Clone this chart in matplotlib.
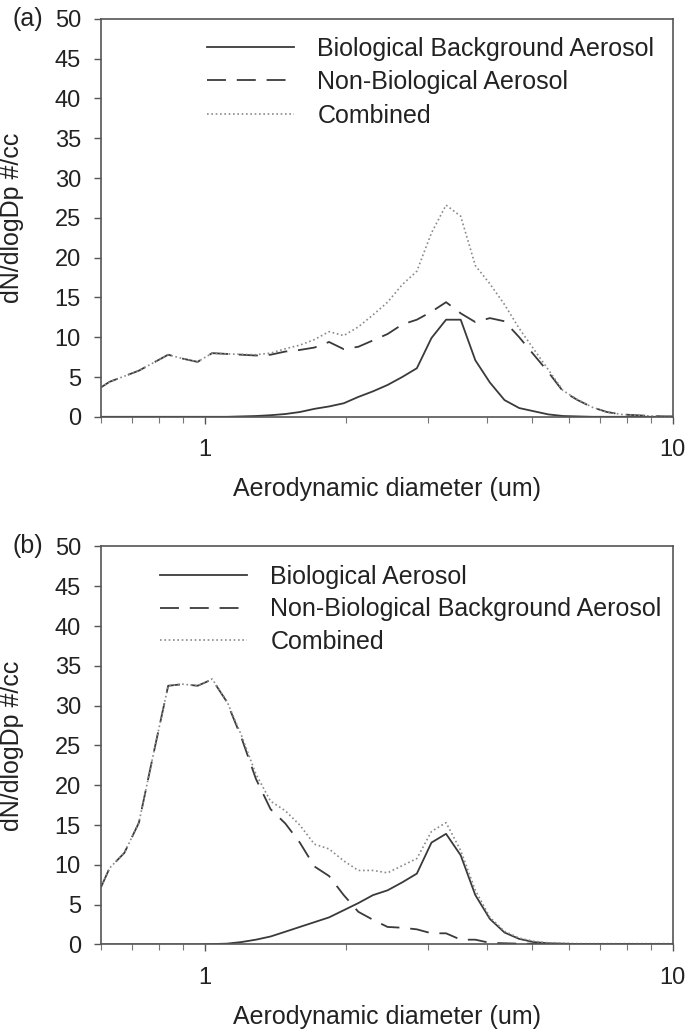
import numpy as np
import matplotlib.pyplot as plt
from matplotlib.ticker import LogLocator, NullFormatter, FixedLocator, FixedFormatter

plt.rcParams['font.family'] = ['Liberation Sans', 'DejaVu Sans']

# aerodynamic diameter grid (um)
diam = [0.6, 0.626, 0.673, 0.723, 0.777, 0.835, 0.898, 0.965, 1.037, 1.114,
        1.197, 1.286, 1.382, 1.486, 1.596, 1.715, 1.843, 1.981, 2.129, 2.288,
        2.458, 2.642, 2.839, 3.051, 3.278, 3.523, 3.786, 4.068, 4.371, 4.698,
        5.048, 5.425, 5.829, 6.264, 6.732, 7.234, 7.774, 8.354, 8.977, 9.647, 10.0]

# panel (a)
bio_a = [0, 0, 0, 0, 0, 0, 0, 0, 0, 0,
         0.05, 0.1, 0.2, 0.35, 0.6, 1.0, 1.3, 1.7, 2.5, 3.2,
         4.0, 5.0, 6.1, 9.9, 12.2, 12.2, 7.1, 4.3, 2.1, 1.1,
         0.7, 0.3, 0.1, 0.05, 0, 0, 0, 0, 0, 0, 0]
nonbio_a = [3.7, 4.4, 5.1, 5.8, 6.8, 7.8, 7.3, 6.9, 8.0, 7.9,
            7.8, 7.7, 7.8, 8.2, 8.4, 8.7, 9.4, 8.5, 8.8, 9.6,
            10.4, 11.6, 12.2, 13.2, 14.4, 13.0, 11.9, 12.4, 12.0, 10.0,
            7.8, 5.6, 3.2, 2.1, 1.2, 0.6, 0.3, 0.2, 0.1, 0.05, 0.05]
comb_a = [3.7, 4.4, 5.1, 5.8, 6.8, 7.8, 7.3, 6.9, 8.0, 7.9,
          7.85, 7.8, 8.0, 8.55, 9.0, 9.7, 10.7, 10.2, 11.3, 12.8,
          14.4, 16.6, 18.3, 23.1, 26.6, 25.2, 19.0, 16.7, 14.1, 11.1,
          8.5, 5.9, 3.3, 2.15, 1.2, 0.6, 0.3, 0.2, 0.1, 0.05, 0.05]

# panel (b)
bio_b = [0, 0, 0, 0, 0, 0, 0, 0, 0.05, 0.1,
         0.3, 0.6, 1.0, 1.6, 2.2, 2.8, 3.4, 4.3, 5.2, 6.2,
         6.8, 7.8, 8.9, 12.8, 13.9, 11.2, 6.2, 3.2, 1.5, 0.7,
         0.3, 0.15, 0.1, 0.05, 0.05, 0.05, 0.05, 0.05, 0.05, 0.05, 0.05]
nonbio_b = [7.2, 9.6, 11.5, 15.3, 24.0, 32.5, 32.7, 32.5, 33.3, 30.5,
            26.0, 20.8, 17.0, 15.2, 12.8, 9.8, 8.6, 6.2, 4.1, 3.1,
            2.2, 2.1, 1.9, 1.4, 1.4, 0.6, 0.6, 0.2, 0.15, 0.1,
            0.1, 0.05, 0.05, 0.05, 0.05, 0.05, 0.05, 0.05, 0.05, 0.05, 0.05]
comb_b = [7.2, 9.6, 11.5, 15.3, 24.0, 32.5, 32.7, 32.5, 33.35, 30.6,
          26.3, 21.4, 18.0, 16.8, 15.0, 12.6, 12.0, 10.5, 9.3, 9.3,
          9.0, 9.9, 10.8, 14.2, 15.3, 11.8, 6.8, 3.4, 1.65, 0.8,
          0.4, 0.2, 0.15, 0.1, 0.1, 0.1, 0.1, 0.1, 0.1, 0.1, 0.1]

labels_a = ['Biological Background Aerosol', 'Non-Biological Aerosol', 'Combined']
labels_b = ['Biological Aerosol', 'Non-Biological Background Aerosol', 'Combined']

FS = 18
TFS = 17

fig = plt.figure(figsize=(7, 10.34), dpi=100)
ax_a = fig.add_axes([0.1443, 0.5969, 0.8167, 0.3849])
ax_b = fig.add_axes([0.1443, 0.0866, 0.8167, 0.3849])


def draw(ax, bio, nonbio, comb, labels, leg_x, leg_y, spacing, tag):
    ax.plot(diam, bio, color='#3a3a3a', lw=1.3, label=labels[0])
    ax.plot(diam, nonbio, color='#3a3a3a', lw=1.3, dashes=(10.5, 6), label=labels[1])
    ax.plot(diam, comb, color='#8a8a8a', lw=1.2, dashes=(1, 1.6), label=labels[2])
    ax.set_xscale('log')
    ax.set_xlim(0.6, 10)
    ax.set_ylim(0, 50)
    ax.set_yticks(np.arange(0, 51, 5))
    ax.xaxis.set_major_locator(FixedLocator([1, 10]))
    ax.xaxis.set_major_formatter(FixedFormatter(['1', '10']))
    ax.xaxis.set_minor_locator(LogLocator(base=10, subs=np.arange(2, 10)))
    ax.xaxis.set_minor_formatter(NullFormatter())
    ax.tick_params(axis='both', which='major', direction='out', length=5, width=1,
                   color='#555555', labelsize=TFS, labelcolor='#222222')
    ax.tick_params(axis='x', which='major', pad=11)
    ax.tick_params(axis='y', which='major', pad=9.5)
    ax.tick_params(axis='x', which='minor', direction='out', length=4, width=0.8, color='#777777')
    for s in ax.spines.values():
        s.set_color('#555555')
        s.set_linewidth(1.2)
    ax.set_xlabel('Aerodynamic diameter (um)', fontsize=FS, color='#222222')
    ax.xaxis.set_label_coords(0.5, -0.152)
    ax.set_ylabel('dN/dlogDp #/cc', fontsize=FS, color='#222222')
    ax.yaxis.set_label_coords(-0.135, 0.5)
    ax.legend(loc='upper left', bbox_to_anchor=(leg_x, leg_y), frameon=False,
              fontsize=FS, handlelength=3.5, handletextpad=0.92, labelspacing=spacing,
              borderpad=0, borderaxespad=0, labelcolor='#222222')
    pos = ax.get_position()
    fig.text(0.018, pos.y1, tag, fontsize=FS, color='#222222', va='center', ha='left')


draw(ax_a, bio_a, nonbio_a, comb_a, labels_a, 0.185, 0.955, 0.38, '(a)')
draw(ax_b, bio_b, nonbio_b, comb_b, labels_b, 0.103, 0.954, 0.34, '(b)')

fig.savefig('out.png', dpi=100)
